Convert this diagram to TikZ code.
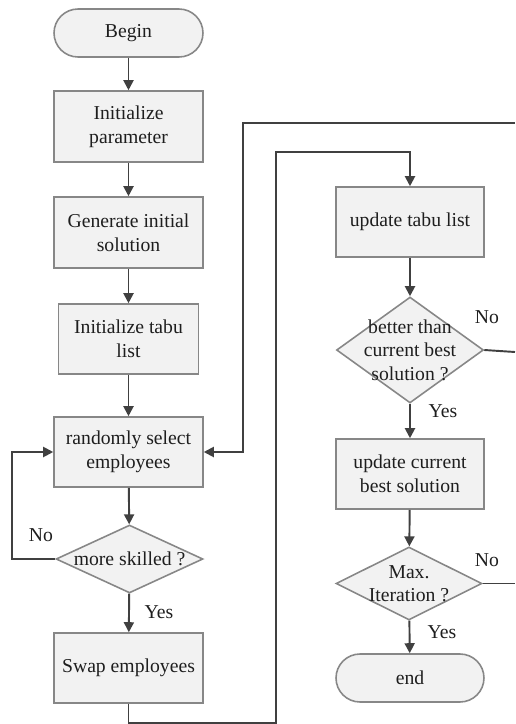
\documentclass[tikz,border=0pt]{standalone}
\usepackage{fontspec}
\setmainfont{Liberation Serif}
\newfontfamily\tnrfont{Liberation Serif}
\usetikzlibrary{arrows.meta, positioning, shapes.geometric}
\definecolor{BoxFill}{RGB}{242,242,242}
\definecolor{BoxLine}{RGB}{135,135,135}
\definecolor{ArrLine}{RGB}{64,64,64}
\definecolor{TxtCol}{RGB}{30,30,30}

\begin{document}
\begin{tikzpicture}[x=0.02cm, y=-0.02cm,
  txt/.style={font=\tnrfont\fontsize{11.2}{13.4}\selectfont, text=TxtCol, align=center},
  proc/.style={txt, draw=BoxLine, line width=0.9pt, fill=BoxFill,
               minimum width=2.98cm, minimum height=1.42cm, inner sep=2pt},
  term/.style={proc, rounded corners=0.48cm, minimum height=0.96cm},
  decis/.style={diamond, draw=BoxLine, line width=0.9pt, fill=BoxFill,
                minimum width=2.94cm, minimum height=1.36cm, inner sep=0pt,
                label={[txt]center:{#1}}},
  arr/.style={draw=ArrLine, line width=1.1pt,
              -{Triangle[length=0.2cm, width=0.2cm]}},
  lin/.style={draw=ArrLine, line width=1.1pt}
]
\useasboundingbox (0,0) rectangle (515,724);

% left column
\node[term] (begin) at (128.5,33) {Begin};
\node[proc] (init) at (128.5,126.5) {Initialize\\parameter};
\node[proc] (gen) at (128.5,232.5) {Generate initial\\solution};
\node[proc, minimum width=2.8cm, minimum height=1.4cm] (itabu) at (128.5,339) {Initialize tabu\\list};
\node[proc, minimum height=1.4cm] (rand) at (128.5,452) {randomly select\\employees};
\node[decis={more skilled ?}] (skill) at (129.5,559) {};
\node[proc, minimum height=1.4cm] (swap) at (128.5,668) {Swap employees};

% right column
\node[proc, minimum width=2.96cm, minimum height=1.4cm] (utabu) at (410,222) {update tabu list};
\node[decis={better than\\current best\\solution ?}, minimum height=2.12cm] (better) at (410,350) {};
\node[proc, minimum width=2.96cm, minimum height=1.4cm] (ubest) at (410,474) {update current\\best solution};
\node[decis={Max.\\Iteration ?}, minimum width=2.92cm, minimum height=1.46cm] (maxit) at (409,583.5) {};
\node[term, minimum width=2.96cm] (end) at (410,678) {end};

% turning points
\coordinate (lp) at (12,559);
\coordinate (bl) at (128.5,723);
\coordinate (br) at (276,723);
\coordinate (tl) at (276,152);
\coordinate (ot) at (243,123);
\coordinate (e1) at (515,352);
\coordinate (e2) at (515,583.5);
\coordinate (e3) at (515,123);

% connectors
\draw[arr] (begin) -- (init);
\draw[arr] (init) -- (gen);
\draw[arr] (gen) -- (itabu);
\draw[arr] (itabu) -- (rand);
\draw[arr] (rand) -- (skill);
\draw[arr] (skill) -- (swap);
\draw[arr] (skill.west) -- (lp) |- (rand.west);
\draw[arr] (swap.south) -- (bl) -- (br) -- (tl) -| (utabu.north);
\draw[arr] (utabu) -- (better);
\draw[arr] (better) -- (ubest);
\draw[arr] (ubest) -- (maxit);
\draw[arr] (maxit) -- (end);
\draw[lin] (better.east) -- (e1);
\draw[lin] (maxit.east) -- (e2);
\draw[arr] (e3) -- (ot) |- (rand.east);

% branch labels
\node[txt] (no1) at (41,535) {No};
\node[txt] (yes1) at (159,612) {Yes};
\node[txt] (no2) at (487,317) {No};
\node[txt] (yes2) at (443,411) {Yes};
\node[txt] (no3) at (487,560) {No};
\node[txt] (yes3) at (442,632) {Yes};
\end{tikzpicture}
\end{document}
